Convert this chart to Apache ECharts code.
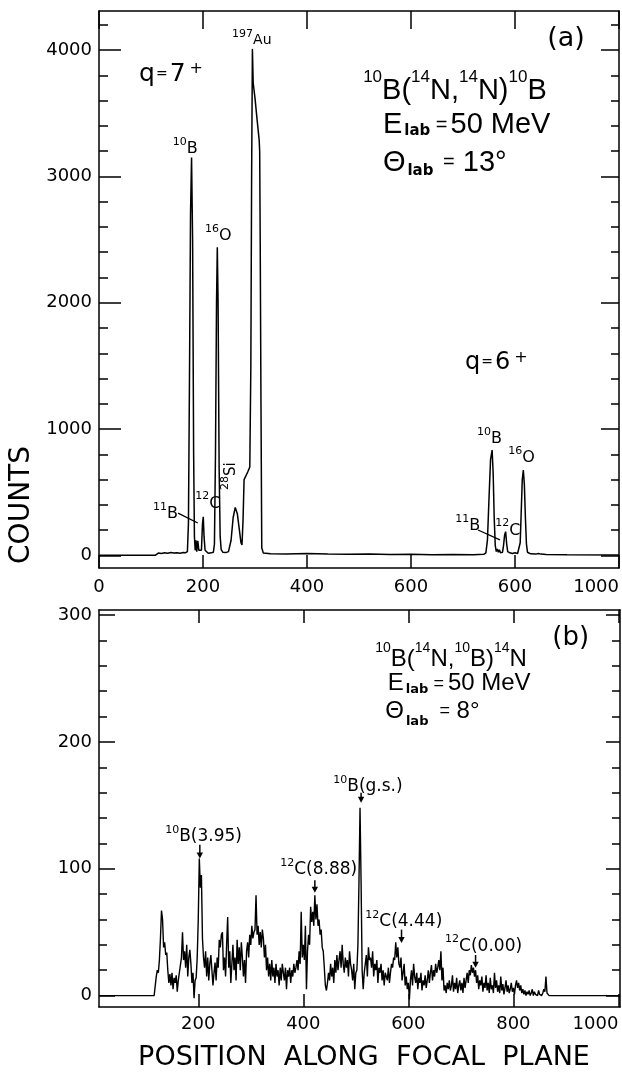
<!DOCTYPE html>
<html><head><meta charset="utf-8">
<script src="https://cdn.jsdelivr.net/npm/echarts@6/dist/echarts.min.js"></script>
<style>html,body{margin:0;padding:0;background:#fff}#c{width:622px;height:1072px}</style>
</head><body><div id="c"></div>
<script>
// ---------- Panel (a): 10B(14N,14N)10B, 13 deg ----------
const chA = [0,50,108,110,114,120,126,132,138,144,150,156,162,166,170,172,174,176,178,180,182,183.5,185,186.5,188,190,192,195,197,199,200.5,202,204,206,210,216,220,222,224,226,227.5,229,231,233,235,238,244,249,254,258,262,266,270,273,275,277,279,282,286,290,292,293.5,295,296.5,300,304,308,309,310,311.5,313,316,330,360,400,440,480,520,560,600,640,680,720,740,744,747,750,753,756,758,760,762,764,766,768,770,772,774,776,778,780,782,784,786,790,795,800,805,808,810,812,814,816,818,820,822,824,830,840,845,848,850,860,900,1000];
const countA = [0,0,0,15,18,14,20,16,22,18,20,17,22,20,30,250,1400,2700,3150,2500,800,150,40,120,30,115,40,45,40,250,306,150,40,25,17,20,25,90,800,2000,2440,2000,700,150,45,25,22,30,120,300,380,330,200,100,82,280,600,625,660,700,1500,3000,4010,3740,3620,3450,3290,3200,2500,1200,60,18,12,10,14,10,8,10,6,8,5,6,5,8,20,120,450,760,834,650,300,80,30,50,25,45,20,35,25,80,160,188,90,30,20,15,20,15,30,100,350,600,676,560,300,90,25,12,10,15,30,10,6,4,3];
const xTicksA = [0,200,400,600,800,1000];
const xTickLabelsA = ['0','200','400','600','600','1000'];
const yTicksA = [0,1000,2000,3000,4000];
const yMinorA = [0,200,400,600,800,1000,1200,1400,1600,1800,2000,2200,2400,2600,2800,3000,3200,3400,3600,3800,4000,4200];

// ---------- Panel (b): 10B(14N,10B)14N, 8 deg ----------
const chBStart = 118, chBStep = 2;
const countB = [
 0,15,20,18,28,45,67,60,38,42,
 32,34,20,10,17,8,18,5,14,10,
 16,3,12,18,24,30,50,28,35,22,
 40,15,30,36,25,10,18,-2,12,14,
 30,60,108,85,95,45,30,22,35,15,
 30,12,25,32,20,8,18,26,12,30,
 22,44,38,48,50,20,30,15,40,62,
 22,35,10,25,40,20,30,12,44,25,
 38,20,42,30,15,28,10,35,42,30,
 48,40,55,45,50,52,79,48,55,40,
 50,38,52,45,30,40,20,30,15,25,
 12,28,15,22,10,25,15,20,8,22,
 12,25,18,12,22,5,20,15,22,10,
 20,15,25,18,22,28,20,35,25,66,
 30,40,28,55,5,35,48,40,70,58,
 66,55,79,60,72,55,60,48,52,38,
 35,22,8,4,10,18,12,25,15,22,
 10,28,18,32,20,28,35,22,40,25,
 18,30,22,28,15,35,25,20,12,25,
 5,18,20,40,90,148,90,20,5,18,
 25,32,15,38,28,30,22,35,15,25,
 20,28,10,22,18,25,12,20,8,18,
 15,12,22,10,18,25,22,30,28,42,
 30,38,25,22,30,12,18,25,8,15,
 5,10,-3,12,20,8,25,15,10,18,
 5,14,10,18,4,12,8,16,6,12,
 20,10,18,24,12,20,15,25,18,22,
 28,20,35,12,22,4,8,2,10,5,
 12,4,8,16,3,10,5,14,2,8,
 12,4,10,2,14,6,12,18,10,20,
 16,24,18,22,15,20,10,16,5,12,
 8,15,3,10,6,16,4,10,2,14,
 5,8,2,18,6,12,3,8,2,15,
 4,9,1,6,12,3,8,2,5,10,
 3,6,1,8,12,6,10,4,8,2,
 5,1,4,0,3,1,4,0,2,5,
 0,3,1,2,0,4,1,2,0,2,
 5,3,15,2,3,0,0
];
const padB = [[11,0],[116,0],[872,0],[1003,0]];
const xTicksB = [200,400,600,800,1000];
const yTicksB = [0,100,200,300];
const yMinorB = [0,20,40,60,80,100,120,140,160,180,200,220,240,260,280,300];

// ---------- Annotation anchors (data coordinates) ----------
const labelsA = [
 {k:'q7', ch:77, c:3811}, {k:'au', ch:256, c:4080}, {k:'b10', ch:142, c:3221},
 {k:'o16', ch:204, c:2528}, {k:'b11', ch:104, c:327}, {k:'c12', ch:185, c:407},
 {k:'q6', ch:704, c:1527}, {k:'b10', ch:727, c:921}, {k:'o16', ch:787, c:771},
 {k:'b11', ch:685, c:232}, {k:'c12', ch:762, c:193},
 {k:'r1', ch:508, c:3677}, {k:'r2', ch:546, c:3407}, {k:'r3', ch:546, c:3110}, {k:'pa', ch:862, c:4088}
];
const leadersA = [[152,335,190,256],[729,201,771,122]];
const si28A = {ch:254, c:628};
const labelsB = [
 {k:'pb', ch:874, c:282}, {k:'r1', ch:537, c:265}, {k:'r2', ch:561, c:246}, {k:'r3', ch:556, c:224},
 {k:'p395', ch:137, c:125}, {k:'p888', ch:356, c:99}, {k:'pgs', ch:457, c:165},
 {k:'p444', ch:518, c:58}, {k:'p000', ch:670, c:39}
];
const arrowsB = [[203,119,108],[422,91,81],[510,160,152],[587,52,41.5],[728,32,22]];

const F = 'DejaVu Sans';
const L = 'Liberation Sans';
const K = '#000';

const chart = echarts.init(document.getElementById('c'), null, {renderer:'canvas'});

function xAx(grid, pos, min, max, ticks, len, labels, extra) {
  return Object.assign({
    gridIndex:grid, type:'value', position:pos, min:min, max:max,
    axisLine:{show:true, onZero:false, lineStyle:{color:K, width:1.5}},
    axisTick:{show:true, inside:true, length:len, customValues:ticks, lineStyle:{color:K, width:1.5}},
    axisLabel: labels ? Object.assign({show:true, customValues:ticks, color:K, fontFamily:F, fontSize:18, alignMaxLabel:'right', formatter:v=>String(v)}, labels) : {show:false},
    splitLine:{show:false}
  }, extra || {});
}
function yAx(grid, pos, min, max, ticks, len, line, labels) {
  return {
    gridIndex:grid, type:'value', position:pos, min:min, max:max,
    axisLine:{show:line, onZero:false, lineStyle:{color:K, width:1.5}},
    axisTick:{show:true, inside:true, length:len, customValues:ticks, lineStyle:{color:K, width:1.5}},
    axisLabel: labels ? Object.assign({show:true, customValues:ticks, color:K, fontFamily:F, fontSize:18, formatter:v=>String(v)}, labels) : {show:false},
    splitLine:{show:false}
  };
}

const dataA = chA.map((c,i)=>[c, countA[i]]);
const dataB = [padB[0], padB[1]].concat(countB.map((v,i)=>[chBStart + i*chBStep, v])).concat([padB[2], padB[3]]);

chart.setOption({
  animation:false,
  backgroundColor:'#fff',
  grid:[
    {left:99, top:11, width:520, height:557},
    {left:99, top:610, width:521, height:397}
  ],
  xAxis:[
    xAx(0,'bottom',0,1000,xTicksA,13,{margin:10, formatter:v=>xTickLabelsA[xTicksA.indexOf(v)]}),
    xAx(0,'top',0,1000,xTicksA,18,null),
    xAx(1,'bottom',11,1003,xTicksB,13,{margin:8}),
    xAx(1,'top',11,1003,xTicksB,13,null)
  ],
  yAxis:[
    yAx(0,'left',-100,4310,yTicksA,22,true,{margin:7}),
    yAx(0,'left',-100,4310,yMinorA,9,false,null),
    yAx(0,'right',-100,4310,yTicksA,18,true,null),
    yAx(0,'right',-100,4310,yMinorA,8,false,null),
    yAx(1,'left',-9,304,yTicksB,16,true,{margin:7}),
    yAx(1,'left',-9,304,yMinorB,8,false,null),
    yAx(1,'right',-9,304,yTicksB,14,true,null),
    yAx(1,'right',-9,304,yMinorB,8,false,null)
  ],
  series:[
    {type:'line', xAxisIndex:0, yAxisIndex:0, data:dataA, showSymbol:false, symbol:'none', silent:true,
     lineStyle:{color:K, width:1.5}},
    {type:'line', xAxisIndex:2, yAxisIndex:4, data:dataB, showSymbol:false, symbol:'none', silent:true,
     lineStyle:{color:K, width:1.4}}
  ]
});

function P(si, ch, c){ return chart.convertToPixel({seriesIndex:si}, [ch, c]); }

const tok = (fs, fam, lh, va, extra) => Object.assign({fontSize:fs, fontFamily:fam, lineHeight:lh, verticalAlign:va, fill:K, color:K}, extra||{});

const defsA = {
  q7:{text:'{m|q}{e|=}{m|7}{s|+}', rich:{m:tok(25,F,26,'middle'), e:tok(14,F,26,'middle',{padding:[0,2,0,1]}), s:tok(16,F,16,'top',{padding:[0,0,0,4]})}},
  q6:{text:'{m|q}{e|=}{m|6}{s|+}', rich:{m:tok(24,F,26,'middle'), e:tok(14,F,26,'middle',{padding:[0,2,0,1]}), s:tok(16,F,16,'top',{padding:[0,0,0,4]})}},
  au:{text:'{s|197}{m|Au}', rich:{m:tok(14,F,22,'middle'), s:tok(11,F,11,'top')}},
  b10:{text:'{s|10}{m|B}', rich:{m:tok(16,F,24,'middle'), s:tok(11,F,11,'top')}},
  o16:{text:'{s|16}{m|O}', rich:{m:tok(16,F,24,'middle'), s:tok(11,F,11,'top')}},
  b11:{text:'{s|11}{m|B}', rich:{m:tok(16,F,24,'middle'), s:tok(11,F,11,'top')}},
  c12:{text:'{s|12}{m|C}', rich:{m:tok(16,F,26,'middle'), s:tok(11,F,11,'top')}},
  r1:{text:'{s|10}{m|B(}{s|14}{m|N,}{s|14}{m|N)}{s|10}{m|B}', rich:{m:tok(29,L,44,'middle'), s:tok(17,L,17,'top')}},
  r2:{text:'{m|E}{b|lab}{e| =}{m|50 MeV}', rich:{m:tok(29,L,28,'middle'), b:tok(15,F,15,'bottom',{fontWeight:'bold', padding:[0,0,0,2]}), e:tok(20,L,28,'middle',{padding:[0,3,0,0]})}},
  r3:{text:'{m|Θ}{b|lab}{e| =}{m| 13°}', rich:{m:tok(29,L,32,'middle'), b:tok(15,F,15,'bottom',{fontWeight:'bold', padding:[0,0,0,2]}), e:tok(20,L,32,'middle',{padding:[0,0,0,4]})}},
  pa:{text:'(a)', rich:null, font:27}
};
const defsB = {
  r1:{text:'{s|10}{m|B(}{s|14}{m|N,}{s|10}{m|B)}{s|14}{m|N}', rich:{m:tok(24,L,36,'middle'), s:tok(14,L,14,'top')}},
  r2:{text:'{m|E}{b|lab}{e| =}{m|50 MeV}', rich:{m:tok(24,L,26,'middle'), b:tok(13,F,13,'bottom',{fontWeight:'bold', padding:[0,0,0,2]}), e:tok(18,L,26,'middle',{padding:[0,4,0,0]})}},
  r3:{text:'{m|Θ}{b|lab}{e| =}{m| 8°}', rich:{m:tok(24,L,34,'middle'), b:tok(13,F,13,'bottom',{fontWeight:'bold', padding:[0,0,0,2]}), e:tok(18,L,34,'middle',{padding:[0,0,0,6]})}},
  pb:{text:'(b)', rich:null, font:26},
  p395:{text:'{s|10}{m|B(3.95)}', rich:{m:tok(17,F,24,'middle'), s:tok(11,F,11,'top')}},
  p888:{text:'{s|12}{m|C(8.88)}', rich:{m:tok(17,F,24,'middle'), s:tok(11,F,11,'top')}},
  pgs:{text:'{s|10}{m|B(g.s.)}', rich:{m:tok(17,F,24,'middle'), s:tok(11,F,11,'top')}},
  p444:{text:'{s|12}{m|C(4.44)}', rich:{m:tok(17,F,24,'middle'), s:tok(11,F,11,'top')}},
  p000:{text:'{s|12}{m|C(0.00)}', rich:{m:tok(17,F,24,'middle'), s:tok(11,F,11,'top')}}
};

function textEl(si, lab, def) {
  const p = P(si, lab.ch, lab.c);
  const style = {text:def.text, fill:K, align:'left', verticalAlign:'middle'};
  if (def.rich) style.rich = def.rich; else { style.fontSize = def.font; style.fontFamily = F; }
  return {type:'text', x:p[0], y:p[1], silent:true, style:style};
}

const g = [];
labelsA.forEach(l => g.push(textEl(0, l, defsA[l.k])));
labelsB.forEach(l => g.push(textEl(1, l, defsB[l.k])));
leadersA.forEach(s => {
  const a = P(0, s[0], s[1]), b = P(0, s[2], s[3]);
  g.push({type:'line', silent:true, shape:{x1:a[0], y1:a[1], x2:b[0], y2:b[1]}, style:{stroke:K, lineWidth:1.3}});
});
(function(){
  const p = P(0, si28A.ch, si28A.c);
  g.push({type:'text', x:p[0], y:p[1], rotation:Math.PI/2, silent:true,
    style:{text:'{s|28}{m|Si}', align:'center', verticalAlign:'middle', fill:K,
      rich:{m:tok(15,F,22,'middle'), s:tok(11,F,11,'top')}}});
})();
arrowsB.forEach(a => {
  const t = P(1, a[0], a[1]), b = P(1, a[0], a[2]);
  g.push({type:'line', silent:true, shape:{x1:t[0], y1:t[1], x2:b[0], y2:b[1]-4}, style:{stroke:K, lineWidth:1.5}});
  g.push({type:'polygon', silent:true, shape:{points:[[b[0]-3.2,b[1]-6],[b[0]+3.2,b[1]-6],[b[0],b[1]]]}, style:{fill:K}});
});
g.push({type:'text', x:22, y:505, rotation:Math.PI/2, silent:true,
  style:{text:'COUNTS', fontSize:28, fontFamily:F, fill:K, align:'center', verticalAlign:'middle'}});
g.push({type:'text', x:364, y:1058, silent:true,
  style:{text:'POSITION  ALONG  FOCAL  PLANE', fontSize:27, fontFamily:F, fill:K, align:'center', verticalAlign:'middle'}});

chart.setOption({graphic:{elements:g}});
</script>
</body></html>
